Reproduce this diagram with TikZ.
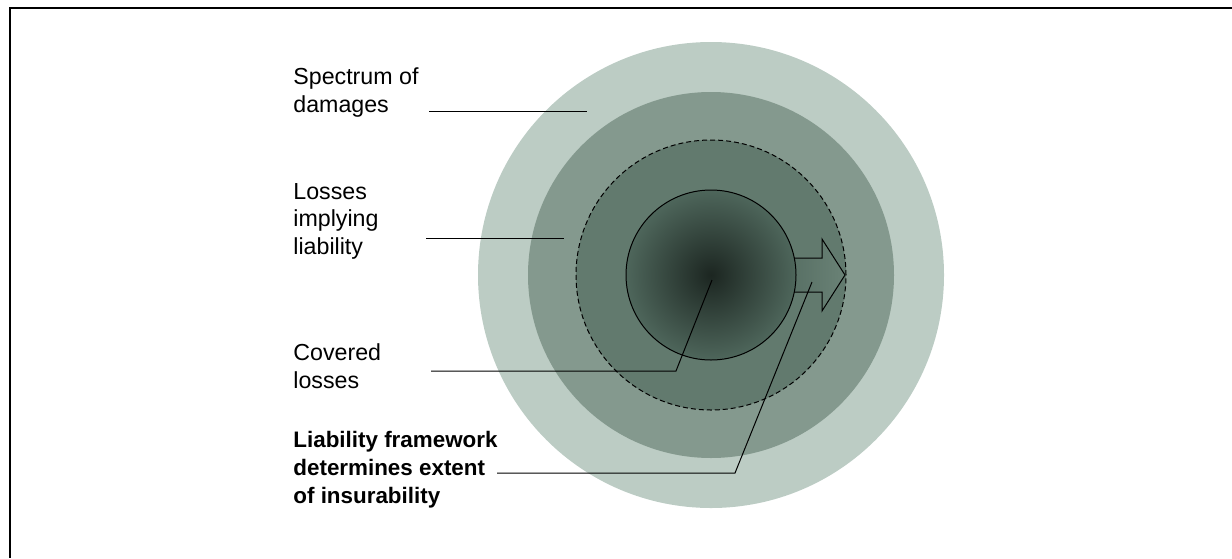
\documentclass[tikz,border=0pt]{standalone}
\usepackage{fontspec}
\setmainfont{Liberation Sans}
\usetikzlibrary{positioning}
\definecolor{ringone}{RGB}{188,204,196}
\definecolor{ringtwo}{RGB}{132,153,142}
\definecolor{ringthree}{RGB}{98,122,110}
\definecolor{coredark}{RGB}{28,38,33}
\definecolor{coreedge}{RGB}{78,102,91}
\definecolor{arrowleft}{RGB}{84,108,97}
\definecolor{arrowright}{RGB}{106,130,118}

\begin{document}
\begin{tikzpicture}[x=0.5pt, y=-0.5pt,
        lbl/.style={anchor=base west, align=left, inner sep=0pt, font=\fontsize{11.6}{13.75}\selectfont},
        boldlbl/.style={lbl, font=\fontsize{11.2}{14}\selectfont\bfseries},
        leader/.style={line width=0.5pt}]
        \useasboundingbox (0,0) rectangle (1232,558);
        \draw[line width=1pt] (1232,8) -- (10,8) -- (10,558);

        \coordinate (c) at (711,275);
        \fill[ringone] (c) circle[radius=116.5pt];
        \fill[ringtwo] (c) circle[radius=91.5pt];
        \fill[ringthree] (c) circle[radius=67.5pt];
        \draw[line width=0.5pt, dash pattern=on 2.5pt off 1.5pt] (c) circle[radius=67.5pt];

        \draw[line width=0.5pt, left color=arrowleft, right color=arrowright]
            (780,258) -- (822,258) -- (822,239) -- (845,275) -- (822,311) -- (822,292) -- (780,292) -- cycle;
        \draw[line width=0.5pt, inner color=coredark, outer color=coreedge] (c) circle[radius=42.5pt];

        % anchor sits on the last line
        \node[lbl] (spec) at (293,112) {Spectrum of\\damages};
        \node[lbl] (loss) at (293,254) {Losses\\implying\\liability};
        \node[lbl] (cov) at (293,388) {Covered\\losses};
        \node[boldlbl] (frame) at (293,503) {Liability framework\\determines extent\\of insurability};

        \coordinate (s1) at (429,111);
        \coordinate (s2) at (587,111);
        \coordinate (l1) at (426,238);
        \coordinate (l2) at (564,238);
        \coordinate (c1) at (431,371);
        \coordinate (c2) at (676,371);
        \coordinate (c3) at (712,280);
        \coordinate (f1) at (497,473);
        \coordinate (f2) at (735,473);
        \coordinate (f3) at (812,282);
        \draw[leader] (s1) -- (s2);
        \draw[leader] (l1) -- (l2);
        \draw[leader] (c1) -- (c2) -- (c3);
        \draw[leader] (f1) -- (f2) -- (f3);
    \end{tikzpicture}
\end{document}
